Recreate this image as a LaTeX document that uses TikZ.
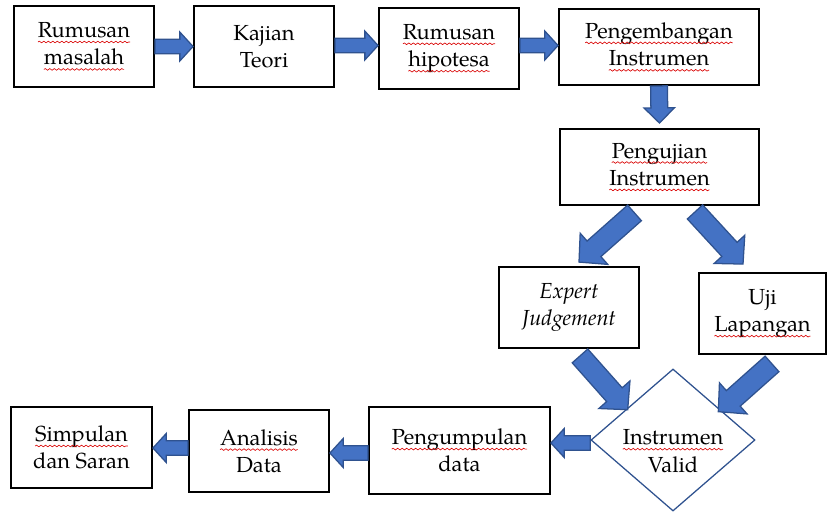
\documentclass[tikz,border=0pt]{standalone}
\usepackage{fontspec}
\setmainfont{TeX Gyre Pagella}
\usepackage{tikz}
\usetikzlibrary{calc,shapes.geometric,decorations.pathmorphing}

\definecolor{panahisi}{HTML}{4472C4}
\definecolor{panahtepi}{HTML}{2F528F}

% garis merah bergelombang di bawah kata
\newcommand{\sq}[1]{\tikz[baseline=(w.base)]{%
  \node[draw=none,fill=none,shape=rectangle,anchor=center,inner sep=0pt,outer sep=0pt,minimum width=0pt,minimum height=0pt] (w) {#1};
  \draw[red!85!black,line width=0.45pt,decorate,decoration={snake,amplitude=0.6pt,segment length=3.2pt}]
    ([yshift=-3.2pt]w.base west) -- ([yshift=-3.2pt]w.base east);}}

% panah blok: dari, ke, setengah lebar batang, setengah lebar kepala, panjang kepala
\newcommand{\blokpanah}[5]{%
  \coordinate (hb) at ($(#2)!#5!(#1)$);
  \draw[panah] ($(#1)!#3!90:(#2)$) -- ($(hb)!#3!90:(#2)$) -- ($(hb)!#4!90:(#2)$) -- (#2)
    -- ($(hb)!#4!-90:(#2)$) -- ($(hb)!#3!-90:(#2)$) -- ($(#1)!#3!-90:(#2)$) -- cycle;}

\begin{document}
\begin{tikzpicture}[x=0.025cm,y=-0.025cm,
  kotak/.style={draw,line width=1.3pt,align=center,inner sep=2pt,font=\fontsize{15.5}{19.5}\selectfont},
  panah/.style={fill=panahisi,draw=panahtepi,line width=0.9pt,line join=miter}]

\useasboundingbox (0,0) rectangle (827,512);

% baris atas
\node[kotak,minimum width=3.5cm,minimum height=2.025cm] (b1) at (84,46.5) {\sq{Rumusan}\\\sq{masalah}};
\node[kotak,minimum width=3.5cm,minimum height=2.025cm] (b2) at (264,46.5) {Kajian\\Teori};
\node[kotak,minimum width=3.5cm,minimum height=2.025cm] (b3) at (449,48.5) {\sq{Rumusan}\\\sq{hipotesa}};
\node[kotak,minimum width=5cm,minimum height=1.9cm] (b4) at (659,47) {\sq{Pengembangan}\\\sq{Instrumen}};

% pengujian
\node[kotak,minimum width=4.975cm,minimum height=1.9cm] (b5) at (659.5,167) {\sq{Pengujian}\\\sq{Instrumen}};
\node[kotak,minimum width=3.5cm,minimum height=2.025cm] (b6) at (569,307.5) {\textit{Expert}\\\textit{Judgement}};
\node[kotak,minimum width=3.175cm,minimum height=2.025cm] (b7) at (762.5,313.5) {Uji\\\sq{Lapangan}};

% keputusan
\node[diamond,draw=panahtepi,line width=0.9pt,minimum width=4.1cm,minimum height=3.55cm,aspect=1.15] (valid) at (673,440) {};
\node[align=center,font=\fontsize{15.5}{19.5}\selectfont] (tvalid) at ($(valid.center)+(0,11)$) {\sq{Instrumen}\\Valid};

% baris bawah
\node[kotak,minimum width=4.525cm,minimum height=2.175cm] (b8) at (459.5,450.5) {\sq{Pengumpulan}\\data};
\node[kotak,minimum width=3.5cm,minimum height=2.05cm] (b9) at (259,451) {\sq{Analisis}\\Data};
\node[kotak,minimum width=3.525cm,minimum height=2.025cm] (b10) at (81.5,447.5) {\sq{Simpulan}\\dan Saran};

% titik ujung panah
\coordinate (h2a) at (b2.east |- 0,45.5);
\coordinate (h2b) at (b3.west |- 0,45.5);
\coordinate (h3a) at (b3.east |- 0,45.5);
\coordinate (h3b) at (b4.west |- 0,45.5);
\coordinate (d1a) at ($(b5.south)+(-25,7)$);
\coordinate (d1b) at ($(b6.north)+(10,-4)$);
\coordinate (d2a) at ($(b5.south)+(35.5,6)$);
\coordinate (d2b) at ($(b7.north)+(-19.5,-8)$);
\coordinate (d3a) at ($(b6.south)+(11,7)$);
\coordinate (d3b) at ($(valid.north west)+(-4,5.5)$);
\coordinate (d4a) at ($(b7.south)+(9.5,9)$);
\coordinate (d4b) at ($(valid.north east)+(4,7.5)$);
\coordinate (v1) at ($(b5.north)+(0,-5)$);
\coordinate (h5a) at (valid.west |- 0,443);
\coordinate (h5b) at (b8.east |- 0,443);
\coordinate (h6) at (b8.west |- 0,453);
\coordinate (h6b) at (b9.east |- 0,453);
\coordinate (h7) at (b9.west |- 0,448);
\coordinate (h7b) at (b10.east |- 0,448);

% panah
\blokpanah{b1.east}{b2.west}{0.18cm}{0.36cm}{0.33cm}
\blokpanah{h2a}{h2b}{0.18cm}{0.36cm}{0.33cm}
\blokpanah{h3a}{h3b}{0.18cm}{0.36cm}{0.33cm}
\blokpanah{b4.south}{v1}{0.21cm}{0.38cm}{0.38cm}
\blokpanah{d1a}{d1b}{0.26cm}{0.52cm}{0.5cm}
\blokpanah{d2a}{d2b}{0.26cm}{0.52cm}{0.5cm}
\blokpanah{d3a}{d3b}{0.26cm}{0.52cm}{0.5cm}
\blokpanah{d4a}{d4b}{0.26cm}{0.52cm}{0.5cm}
\blokpanah{h5a}{h5b}{0.18cm}{0.36cm}{0.33cm}
\blokpanah{h6}{h6b}{0.18cm}{0.36cm}{0.33cm}
\blokpanah{h7}{h7b}{0.18cm}{0.36cm}{0.33cm}

\end{tikzpicture}
\end{document}
